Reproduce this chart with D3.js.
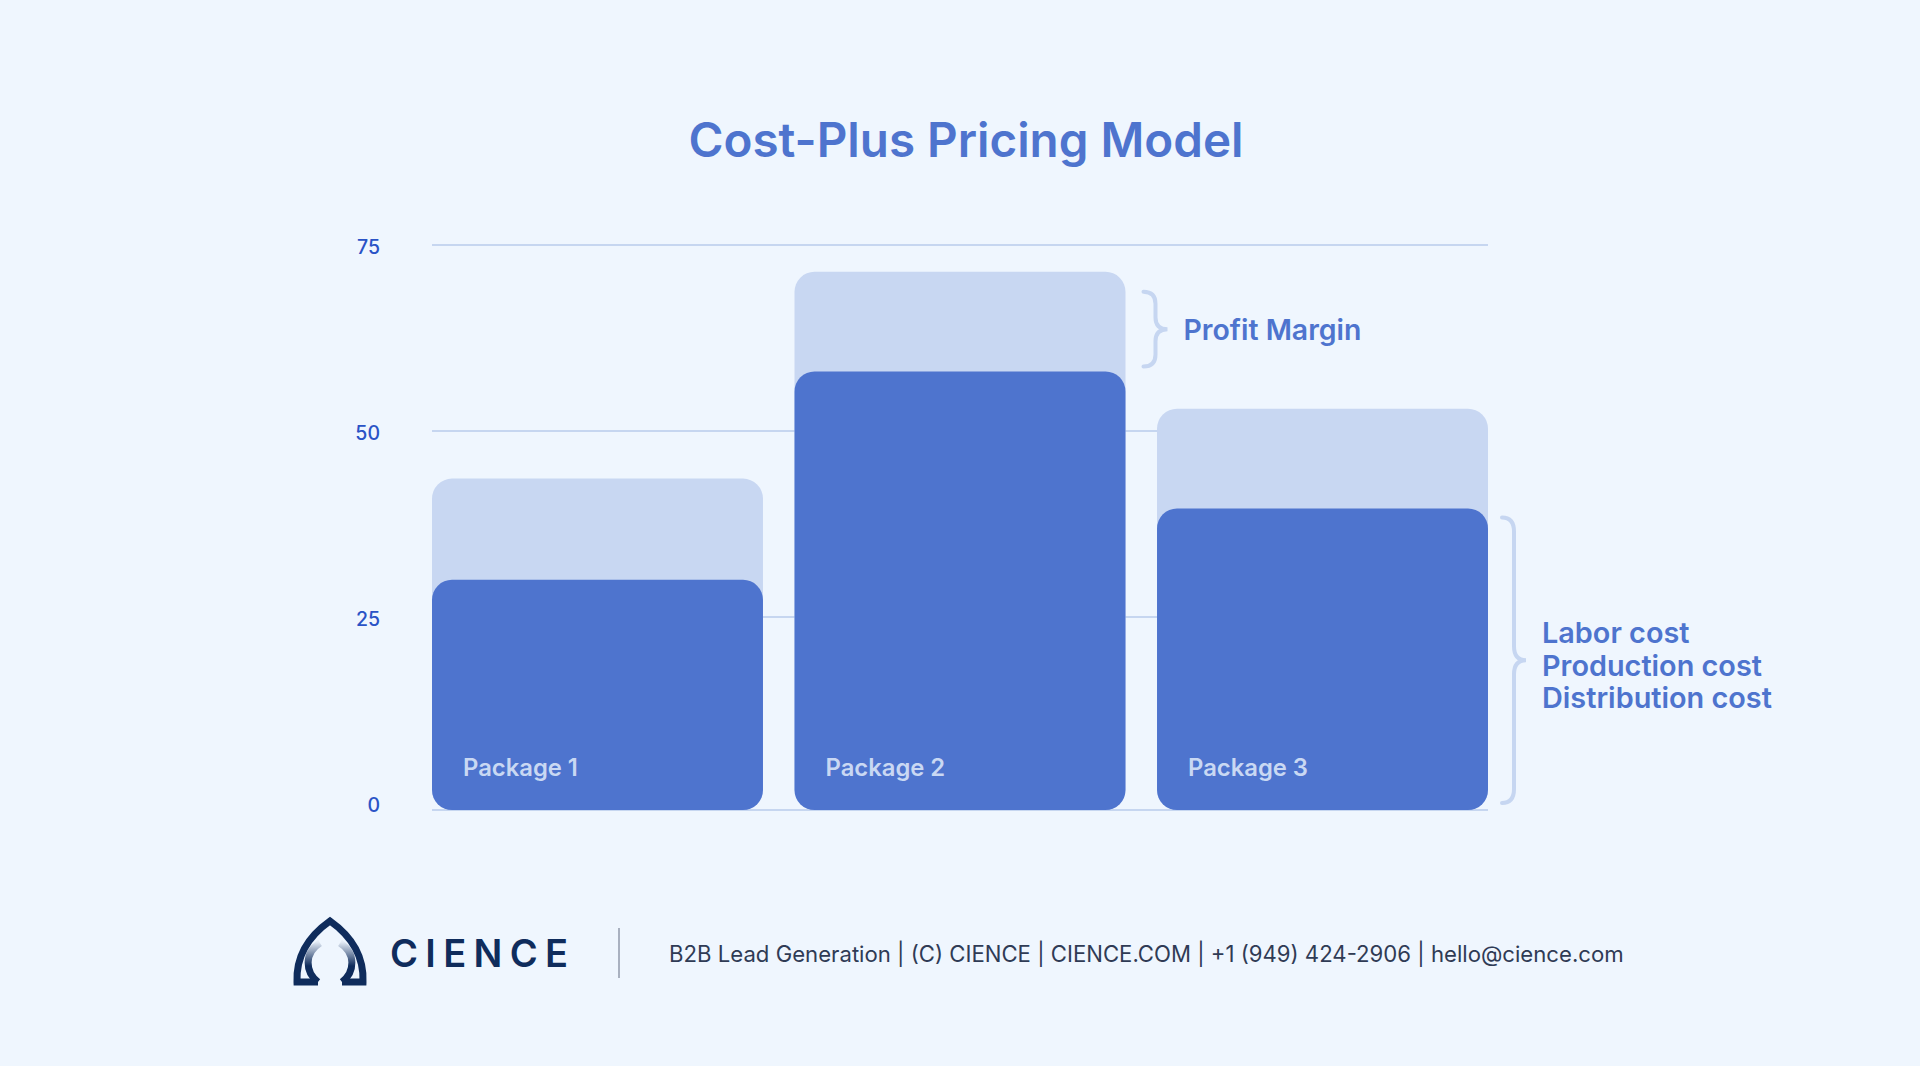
<!DOCTYPE html>
<html>
<head>
<meta charset="utf-8">
<script src="https://cdn.jsdelivr.net/npm/d3@7/dist/d3.min.js"></script>
<style>
  html, body { margin: 0; padding: 0; background: #EFF6FE; }
  svg { display: block; font-family: Inter, "Noto Sans", sans-serif; }
</style>
</head>
<body>
<svg id="chart" width="1920" height="1066"></svg>
<script>
// ---- data ----
const categories = ["Package 1", "Package 2", "Package 3"];
const costValues = [30, 58, 39.6];          // labor + production + distribution cost
const totalValues = [43.6, 71.4, 53];       // cost + profit margin (price)
const yTicks = [0, 25, 50, 75];
const title = "Cost-Plus Pricing Model";
const marginLabel = "Profit Margin";
const costLabels = ["Labor cost", "Production cost", "Distribution cost"];
const footerText = "B2B Lead Generation | (C) CIENCE | CIENCE.COM | +1 (949) 424-2906 | hello@cience.com";
const brandName = "CIENCE";

// ---- styles ----
const C = {
  bg: "#EFF6FE", dark: "#4E74CE", light: "#C8D7F2", grid: "#C6D6F0",
  tick: "#2A53C6", title: "#4E74CE", pkg: "#C9D8F3", brace: "#C6D6F1",
  navy: "#0F2C5C", footer: "#2F3B55", sep: "#A9B1C0"
};

const svg = d3.select("#chart");
svg.append("rect").attr("width", 1920).attr("height", 1066).attr("fill", C.bg);

function fitWidth(sel, target) {
  const w = sel.node().getComputedTextLength();
  const fs = parseFloat(sel.attr("font-size"));
  sel.attr("font-size", fs * target / w);
}

// title
const t = svg.append("text").text(title)
  .attr("x", 966).attr("y", 157).attr("text-anchor", "middle")
  .attr("font-size", 52).attr("font-weight", 600).attr("fill", C.title);
fitWidth(t, 555);

// scales
const y = d3.scaleLinear().domain([0, 75]).range([803, 245]);
const x = d3.scaleBand().domain(categories).range([432, 1488]).paddingInner(0.087).paddingOuter(0);
const bw = x.bandwidth();
const bottom = y(0) + 7;

// gridlines
svg.append("g").selectAll("line").data(yTicks).join("line")
  .attr("x1", 432).attr("x2", 1488)
  .attr("y1", d => d === 0 ? bottom : y(d)).attr("y2", d => d === 0 ? bottom : y(d))
  .attr("stroke", C.grid).attr("stroke-width", 2);

// y axis labels
const yAxis = svg.append("g").attr("transform", "translate(380,0)")
  .call(d3.axisLeft(y).tickValues(yTicks).tickSize(0).tickPadding(0));
yAxis.select(".domain").remove();
yAxis.selectAll("text").attr("font-size", 19.5).attr("font-family", "Inter, sans-serif")
  .attr("fill", C.tick).attr("dy", "0.42em").attr("font-weight", 500);

// bars
const rows = categories.map((c, i) => ({ c, cost: costValues[i], total: totalValues[i] }));
svg.append("g").selectAll("rect").data(rows).join("rect")
  .attr("x", d => x(d.c)).attr("width", bw)
  .attr("y", d => y(d.total)).attr("height", d => bottom - y(d.total))
  .attr("rx", 20).attr("fill", C.light);
svg.append("g").selectAll("rect").data(rows).join("rect")
  .attr("x", d => x(d.c)).attr("width", bw)
  .attr("y", d => y(d.cost)).attr("height", d => bottom - y(d.cost))
  .attr("rx", 20).attr("fill", C.dark);

// package labels
svg.append("g").selectAll("text").data(rows).join("text")
  .attr("x", d => x(d.c) + 31).attr("y", bottom - 34)
  .attr("font-size", 23.8).attr("font-weight", 600).attr("fill", C.pkg)
  .text(d => d.c);

// braces
function brace(xp, y0, y1, w, r) {
  const ym = (y0 + y1) / 2, xm = xp + w / 2;
  return `M${xp},${y0} Q${xm},${y0} ${xm},${y0 + r} L${xm},${ym - r} Q${xm},${ym} ${xp + w},${ym}`
    + ` Q${xm},${ym} ${xm},${ym + r} L${xm},${y1 - r} Q${xm},${y1} ${xp},${y1}`;
}
const p2 = rows[1], p3 = rows[2];
const b1x = x(p2.c) + bw + 18, b1y0 = y(p2.total) + 20, b1y1 = y(p2.cost) - 5;
svg.append("path").attr("d", brace(b1x, b1y0, b1y1, 24, 12))
  .attr("fill", "none").attr("stroke", C.brace).attr("stroke-width", 4).attr("stroke-linecap", "round");
const pm = svg.append("text").text(marginLabel)
  .attr("x", b1x + 40).attr("y", (b1y0 + b1y1) / 2 + 11)
  .attr("font-size", 29).attr("font-weight", 600).attr("fill", C.dark);
fitWidth(pm, 178);

const b2x = x(p3.c) + bw + 14, b2y0 = y(p3.cost) + 9, b2y1 = y(0);
svg.append("path").attr("d", brace(b2x, b2y0, b2y1, 24, 14))
  .attr("fill", "none").attr("stroke", C.brace).attr("stroke-width", 4).attr("stroke-linecap", "round");
const cl = svg.append("g").selectAll("text").data(costLabels).join("text")
  .attr("x", b2x + 40).attr("y", (d, i) => 643 + i * 32.5)
  .attr("font-size", 29).attr("font-weight", 600).attr("fill", C.dark)
  .text(d => d);
{
  const longest = cl.filter((d, i) => i === costLabels.length - 1);
  const w = longest.node().getComputedTextLength();
  cl.attr("font-size", 29 * 230 / w);
}

// footer: logo
const defs = svg.append("defs");
const gl = defs.append("linearGradient").attr("id", "fadeL")
  .attr("gradientUnits", "userSpaceOnUse").attr("x1", 0).attr("y1", 982).attr("x2", 0).attr("y2", 942);
gl.append("stop").attr("offset", 0).attr("stop-color", C.navy);
gl.append("stop").attr("offset", 0.4).attr("stop-color", C.navy);
gl.append("stop").attr("offset", 1).attr("stop-color", C.navy).attr("stop-opacity", 0.05);
const logo = svg.append("g").attr("fill", "none").attr("stroke-width", 7);
logo.append("path")
  .attr("d", "M318,982 L297,982 C296,958 306,938 330,921 C354,938 364,958 363,982 L342,982")
  .attr("stroke", C.navy).attr("stroke-linejoin", "miter");
logo.append("path").attr("d", "M318,982 C305,972 304,953 320,943").attr("stroke", "url(#fadeL)");
logo.append("path").attr("d", "M342,982 C355,972 356,953 340,943").attr("stroke", "url(#fadeL)");

svg.append("text").text(brandName)
  .attr("x", 390).attr("y", 967).attr("font-size", 38).attr("font-weight", 600)
  .attr("fill", C.navy).attr("textLength", 178).attr("lengthAdjust", "spacing");

svg.append("line").attr("x1", 619).attr("x2", 619).attr("y1", 928).attr("y2", 978)
  .attr("stroke", C.sep).attr("stroke-width", 2);

const ft = svg.append("text").text(footerText)
  .attr("x", 669).attr("y", 962).attr("font-size", 22).attr("fill", C.footer);
fitWidth(ft, 955);
</script>
</body>
</html>
